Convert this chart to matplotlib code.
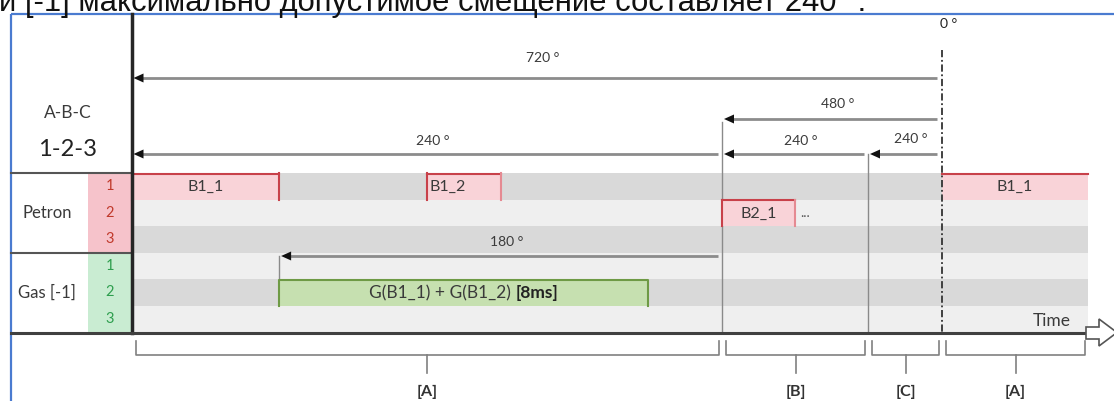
import numpy as np
import matplotlib
matplotlib.use("Agg")
import matplotlib.pyplot as plt
from matplotlib.patches import Rectangle, Polygon

# ---------------- data ----------------
header_text = "и [-1] максимально допустимое смещение составляет 240 °."
group_names = ["Petron", "Gas [-1]"]
row_numbers = ["1", "2", "3"]
top_labels = ["A-B-C", "1-2-3"]
zero_label = "0 °"
time_label = "Time"

# crank angle before TDC at the schematic timeline anchors
anchor_deg = [720, 480, 240, 0, -240]

# dimension arrows (degrees before TDC)
arrow_labels = ["720 °", "480 °", "240 °", "240 °", "240 °", "180 °"]
arrow_from = [0, 0, 480, 240, 0, 480]
arrow_to = [720, 480, 720, 480, 240, 660]

# injection events
petron_names = ["B1_1", "B1_2", "B2_1", "B1_1"]
petron_rows = [1, 1, 2, 1]
petron_start = [720, 600, 480, 0]
petron_end = [660, 570, 360, -240]

gas_text = "G(B1_1) + G(B1_2) "
gas_bold = "[8ms]"
gas_row = 2
gas_start = 660
gas_end = 510

phase_names = ["[A]", "[B]", "[C]", "[A]"]
phase_start = [720, 480, 240, 0]
phase_end = [480, 240, 0, -240]

# ---------------- layout / style ----------------
anchor_x = [131.5, 722, 868, 942, 1088]
FONT = ["Lato", "DejaVu Sans"]
plt.rcParams["font.family"] = FONT
TXT = "#3a3a3a"


def X(deg):
    return float(np.interp(-deg, -np.array(anchor_deg, float), anchor_x))


fig = plt.figure(figsize=(11.14, 4.01), dpi=100)
ax = fig.add_axes([0, 0, 1, 1])
ax.set_xlim(0, 1114)
ax.set_ylim(401, 0)
ax.axis("off")

# header sentence (cut off by the top of the screenshot, as in the original)
ax.text(-1, 10.5, header_text, fontsize=22.3, family=["Liberation Sans", "DejaVu Sans"],
        color="#111111", va="baseline", ha="left")

# blue frame
ax.plot([11, 11], [13.5, 401], color="#4a7bd0", lw=1.6, solid_capstyle="butt")
ax.plot([11, 1114], [13.5, 13.5], color="#4a7bd0", lw=1.6, solid_capstyle="butt")

# rows
row_top0 = 173.0
row_h = 26.5
row_cols = ["#d9d9d9", "#efefef", "#d9d9d9", "#efefef", "#d9d9d9", "#efefef"]
for i, c in enumerate(row_cols):
    ax.add_patch(Rectangle((131.5, row_top0 + i * row_h), X(-240) - 131.5, row_h,
                           facecolor=c, edgecolor="none", zorder=1))

# number columns
ax.add_patch(Rectangle((88, row_top0), 43.5, 3 * row_h, facecolor="#f6c3cb", edgecolor="none", zorder=1))
ax.add_patch(Rectangle((88, row_top0 + 3 * row_h), 43.5, 3 * row_h, facecolor="#c9ecd2", edgecolor="none", zorder=1))
for g in range(2):
    col = "#c0392b" if g == 0 else "#2e9e4e"
    for j, n in enumerate(row_numbers):
        yc = row_top0 + (g * 3 + j + 0.5) * row_h
        ax.text(110, yc, n, fontsize=10.5, color=col, ha="center", va="center", zorder=3)
    ax.text(47, row_top0 + (g * 3 + 1.5) * row_h, group_names[g], fontsize=12,
            color=TXT, ha="center", va="center", zorder=3)

# header labels
ax.text(68, 113, top_labels[0], fontsize=12.5, color=TXT, ha="center", va="center")
ax.text(68, 149, top_labels[1], fontsize=17, color="#222222", ha="center", va="center")

# separators
ax.plot([11, 131.5], [row_top0, row_top0], color="#555555", lw=1.5, zorder=2)
ax.plot([11, 131.5], [row_top0 + 3 * row_h, row_top0 + 3 * row_h], color="#555555", lw=1.5, zorder=2)

# thin vertical guide lines
ax.plot([X(480), X(480)], [122, 333], color="#8a8a8a", lw=1.0, zorder=2)
ax.plot([X(240), X(240)], [154, 333], color="#8a8a8a", lw=1.0, zorder=2)
ax.plot([X(660), X(660)], [256, row_top0 + 4 * row_h], color="#8a8a8a", lw=1.0, zorder=2)
ax.plot([X(0), X(0)], [50, 333], color="#333333", lw=1.3, ls=(0, (4, 1.5, 1, 1.5)), zorder=4)
ax.text(X(0) + 7, 24, zero_label, fontsize=10, color="#222222", ha="center", va="center")

# dimension arrows
arrow_y = [78, 119, 154, 154, 154, 256]
label_y = [58, 104, 141, 141, 139, 242]
for lab, a0, a1, yy, ly in zip(arrow_labels, arrow_from, arrow_to, arrow_y, label_y):
    xr = X(a0) - (5 if a0 == 0 else 4)
    xl = X(a1)
    ax.plot([xl + 8, xr], [yy, yy], color="#8c8c8c", lw=2, solid_capstyle="butt", zorder=3)
    ax.add_patch(Polygon([(xl + 2, yy), (xl + 12, yy - 4.5), (xl + 12, yy + 4.5)],
                         closed=True, facecolor="#111111", edgecolor="none", zorder=4))
    ax.text((X(a0) + X(a1)) / 2 + 6, ly, lab, fontsize=10, color=TXT,
            ha="center", va="center", zorder=4)

# main vertical axis and time axis
ax.plot([131.5, 131.5], [14, 333], color="#262626", lw=2.5, zorder=5)
ax.plot([11, 1090], [333, 333], color="#404040", lw=2.2, zorder=5)
ax.add_patch(Polygon([(1086, 327), (1099, 327), (1099, 319), (1117, 332.5), (1099, 346),
                      (1099, 339), (1086, 339)], closed=True, facecolor="white",
                     edgecolor="#555555", lw=1.2, zorder=6))
ax.text(1071, 321, time_label, fontsize=12.5, color=TXT, ha="right", va="center", zorder=5)

# petron bars
pink_fill = "#f9d3d8"
red_edge = "#c8414a"
petron_align = ["center", "left", "center", "center"]
for name, r, s, e, al in zip(petron_names, petron_rows, petron_start, petron_end, petron_align):
    x0, x1 = X(s), X(e)
    y0 = row_top0 + (r - 1) * row_h
    y1 = y0 + row_h
    ax.add_patch(Rectangle((x0, y0), x1 - x0, row_h, facecolor=pink_fill, edgecolor="none", zorder=3))
    ax.plot([x0, x1], [y0 + 0.8, y0 + 0.8], color=red_edge, lw=1.5, zorder=4)
    if s != 0:
        ax.plot([x0, x0], [y0, y1], color=red_edge, lw=1.5, zorder=4)
    if e != -240:
        ax.plot([x1, x1], [y0, y1], color=red_edge if s == 720 else "#e58a92", lw=1.5, zorder=4)
    if al == "left":
        ax.text(x0 + 3, y0 + row_h / 2 + 1, name, fontsize=11.5, color=TXT, ha="left", va="center", zorder=5)
    else:
        ax.text((x0 + x1) / 2, y0 + row_h / 2 + 1, name, fontsize=11.5, color=TXT,
                ha="center", va="center", zorder=5)
    if name == "B2_1":
        ax.text(x1 + 5, y0 + row_h / 2, "...", fontsize=10, color="#555555", ha="left", va="center", zorder=5)

# gas bar (label centred, last part in bold)
gx0, gx1 = X(gas_start), X(gas_end)
gy0 = row_top0 + (3 + gas_row - 1) * row_h
ax.add_patch(Rectangle((gx0, gy0), gx1 - gx0, row_h, facecolor="#c6e0b0", edgecolor="none", zorder=3))
ax.plot([gx0, gx0, gx1, gx1], [gy0 + row_h, gy0 + 0.8, gy0 + 0.8, gy0 + row_h], color="#6e9a45", lw=1.5, zorder=4)
t1 = ax.text(gx0, gy0 + row_h / 2 + 1, gas_text, fontsize=12.5, color=TXT,
             ha="left", va="center", zorder=5)
t2 = ax.text(gx0, gy0 + row_h / 2 + 1, gas_bold, fontsize=12.5, color="#222222", fontweight="bold",
             ha="left", va="center", zorder=5)
fig.canvas.draw()
rend = fig.canvas.get_renderer()
inv = ax.transData.inverted()
b1 = t1.get_window_extent(renderer=rend)
b2 = t2.get_window_extent(renderer=rend)
w1 = inv.transform((b1.x1, 0))[0] - inv.transform((b1.x0, 0))[0]
w2 = inv.transform((b2.x1, 0))[0] - inv.transform((b2.x0, 0))[0]
start = (gx0 + gx1) / 2 - (w1 + w2) / 2
t1.set_x(start)
t2.set_x(start + w1)

# braces with phase labels
for name, s, e in zip(phase_names, phase_start, phase_end):
    x0, x1 = X(s) + 4, X(e) - 3
    xc = (x0 + x1) / 2
    ax.plot([x0, x0, x1, x1], [341, 355, 355, 341], color="#808080", lw=1.2, zorder=3)
    ax.plot([xc, xc], [355, 373], color="#808080", lw=1.2, zorder=3)
    ax.text(xc, 392, name, fontsize=11.5, fontweight="bold", color="#333333", ha="center", va="center")

fig.savefig("out.png", dpi=100)
